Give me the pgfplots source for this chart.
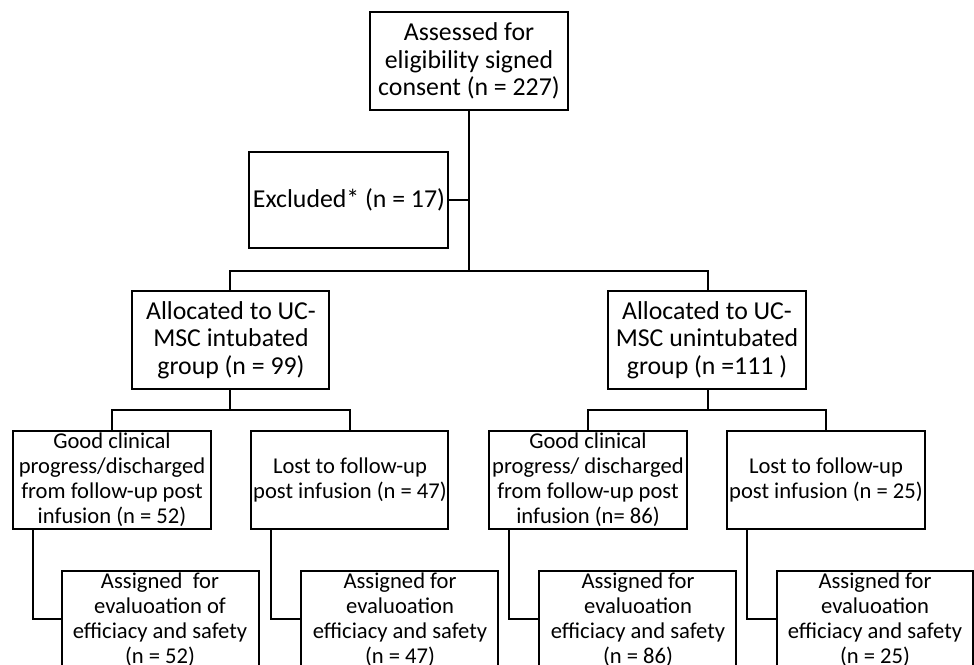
\documentclass[border=0pt]{standalone}
\usepackage{fontspec}
\setmainfont{Carlito}
\usepackage{pgfplots}
\pgfplotsset{compat=1.18}
\begin{document}
\begin{tikzpicture}
\begin{axis}[
  x=0.5pt, y=0.5pt, y dir=reverse,
  xmin=0, xmax=974, ymin=0, ymax=664,
  enlargelimits=false, axis lines=none, clip=true,
  cycle list={{black}},
  every axis plot post/.append style={black, solid, line width=1pt, line join=miter, mark=none},
]
% ---- boxes ----
\addplot coordinates {(370,12) (568,12) (568,110) (370,110)} -- cycle;   % assessed
\addplot coordinates {(249,152) (448,152) (448,248) (249,248)} -- cycle; % excluded
\addplot coordinates {(132,291) (329,291) (329,389) (132,389)} -- cycle; % alloc L
\addplot coordinates {(608,291) (806,291) (806,389) (608,389)} -- cycle; % alloc R
\addplot coordinates {(13,431) (211,431) (211,529) (13,529)} -- cycle;   % good L
\addplot coordinates {(251,431) (448,431) (448,529) (251,529)} -- cycle; % lost L
\addplot coordinates {(489,431) (687,431) (687,529) (489,529)} -- cycle; % good R
\addplot coordinates {(727,431) (925,431) (925,529) (727,529)} -- cycle; % lost R
\addplot coordinates {(62,571) (259,571) (259,680) (62,680)} -- cycle;   % assigned 1
\addplot coordinates {(301,571) (498,571) (498,680) (301,680)} -- cycle; % assigned 2
\addplot coordinates {(539,571) (736,571) (736,680) (539,680)} -- cycle; % assigned 3
\addplot coordinates {(777,571) (973,571) (973,680) (777,680)} -- cycle; % assigned 4
% ---- connectors ----
\addplot coordinates {(469,110) (469,271)};
\addplot coordinates {(448,200) (469,200)};
\addplot coordinates {(230,291) (230,271) (708,271) (708,291)};
\addplot coordinates {(230,389) (230,410)};
\addplot coordinates {(112,431) (112,410) (350,410) (350,431)};
\addplot coordinates {(708,389) (708,410)};
\addplot coordinates {(588,431) (588,410) (826,410) (826,431)};
\addplot coordinates {(33,529) (33,619) (62,619)};
\addplot coordinates {(271,529) (271,619) (301,619)};
\addplot coordinates {(509,529) (509,619) (539,619)};
\addplot coordinates {(747,529) (747,619) (777,619)};
% ---- texts ----
\tikzset{bigt/.style={align=center, inner sep=0pt, font={\fontsize{12.9}{13.75}\selectfont}},
         smt/.style={align=center, inner sep=0pt, font={\fontsize{11.3}{12.5}\selectfont}}}
\node[bigt] at (axis cs:469,61) {Assessed for\\eligibility signed\\consent (n = 227)};
\node[bigt] at (axis cs:349,200) {Excluded* (n = 17)};
\node[bigt] at (axis cs:231,340) {Allocated to UC-\\MSC intubated\\group (n = 99)};
\node[bigt] at (axis cs:707,340) {Allocated to UC-\\MSC unintubated\\group (n =111 )};
\node[smt] at (axis cs:112,480) {Good clinical\\progress/discharged\\from follow-up post\\infusion (n = 52)};
\node[smt] at (axis cs:350,480) {Lost to follow-up\\post infusion (n = 47)};
\node[smt] at (axis cs:588,480) {Good clinical\\progress/ discharged\\from follow-up post\\infusion (n= 86)};
\node[smt] at (axis cs:826,480) {Lost to follow-up\\post infusion (n = 25)};
\node[smt] at (axis cs:160,620) {Assigned\ \ for\\evaluoation of\\efficiacy and safety\\(n = 52)};
\node[smt] at (axis cs:400,620) {Assigned for\\evaluoation\\efficiacy and safety\\(n = 47)};
\node[smt] at (axis cs:638,620) {Assigned for\\evaluoation\\efficiacy and safety\\(n = 86)};
\node[smt] at (axis cs:875,620) {Assigned for\\evaluoation\\efficiacy and safety\\(n = 25)};
\end{axis}
\pgfresetboundingbox
\path[use as bounding box] (current axis.south west) rectangle (current axis.north east);
\end{tikzpicture}
\end{document}
